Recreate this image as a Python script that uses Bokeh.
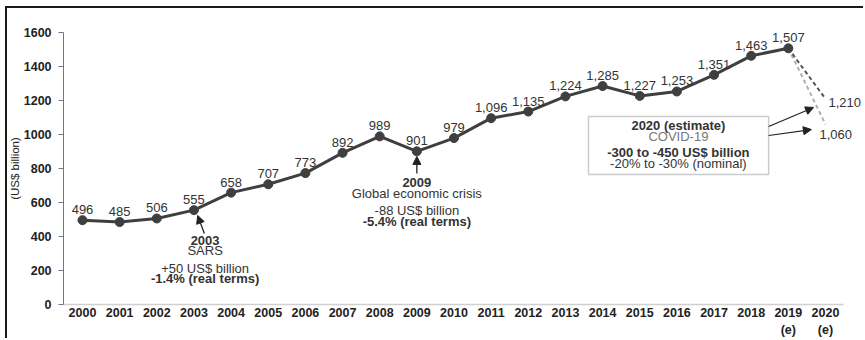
from bokeh.plotting import figure
from bokeh.models import (ColumnDataSource, FixedTicker, Arrow, NormalHead, Label,
                          BoxAnnotation, Range1d)
from bokeh.core.properties import value
from bokeh.embed import file_html
from bokeh.resources import INLINE

years = list(range(2000, 2020))
values = [496, 485, 506, 555, 658, 707, 773, 892, 989, 901, 979, 1096, 1135,
          1224, 1285, 1227, 1253, 1351, 1463, 1507]
labels = ["496", "485", "506", "555", "658", "707", "773", "892", "989", "901",
          "979", "1,096", "1,135", "1,224", "1,285", "1,227", "1,253", "1,351",
          "1,463", "1,507"]
est_year = 2020
est_high = 1210
est_low = 1060
x_ticks = list(range(2000, 2021))
y_ticks = [0, 200, 400, 600, 800, 1000, 1200, 1400, 1600]
tick_overrides = {2019: "2019\n(e)", 2020: "2020\n(e)"}

FONT = "Liberation Sans"
DARK = "#3f3f3f"
TXT = "#333333"

X0, X1 = 1997.981, 2021.077
Y0, Y1 = -211.8, 1741.2
AX_X0, AX_X1 = 1999.49, 2020.48

p = figure(width=858, height=332, output_backend="svg", toolbar_location=None,
           x_range=Range1d(X0, X1), y_range=Range1d(Y0, Y1),
           min_border_left=0, min_border_right=0, min_border_top=0,
           min_border_bottom=0)
p.styles = {"margin-top": "6px", "margin-left": "5px",
            "border-top": "2px solid #1a1a1a", "border-left": "2px solid #1a1a1a"}
p.outline_line_color = None
p.xgrid.grid_line_color = None
p.ygrid.grid_line_color = None
p.background_fill_color = "white"
p.border_fill_color = "white"

# axes
p.xaxis.fixed_location = 0
p.xaxis.bounds = (AX_X0, AX_X1)
p.xaxis.ticker = FixedTicker(ticks=x_ticks)
p.xaxis.major_label_overrides = {k: v for k, v in tick_overrides.items()}
p.xaxis.major_tick_line_color = None
p.xaxis.minor_tick_line_color = None
p.xaxis.axis_line_color = "#d0d0d0"
p.xaxis.axis_line_width = 1.5
p.xaxis.major_label_text_font = FONT
p.xaxis.major_label_text_font_style = "bold"
p.xaxis.major_label_text_font_size = "12.5px"
p.xaxis.major_label_text_color = "#222222"
p.xaxis.major_label_standoff = -4

p.yaxis.fixed_location = AX_X0
p.yaxis.bounds = (0, 1600)
p.yaxis.ticker = FixedTicker(ticks=y_ticks)
p.yaxis.minor_tick_line_color = None
p.yaxis.axis_line_color = "#777777"
p.yaxis.major_tick_line_color = "#777777"
p.yaxis.major_tick_in = 0
p.yaxis.major_tick_out = 5
p.yaxis.major_label_text_font = FONT
p.yaxis.major_label_text_font_style = "bold"
p.yaxis.major_label_text_font_size = "12.5px"
p.yaxis.major_label_text_color = "#222222"
p.yaxis.major_label_standoff = 7
p.yaxis.axis_label = "(US$ billion)"
p.yaxis.axis_label_text_font = FONT
p.yaxis.axis_label_text_font_style = "normal"
p.yaxis.axis_label_text_font_size = "11.5px"
p.yaxis.axis_label_text_color = "#222222"
p.yaxis.axis_label_standoff = 0

src = ColumnDataSource(dict(x=years, y=values, t=labels))

# dashed estimate lines
p.line([years[-1], est_year], [values[-1], est_low], line_color="#b0b0b0",
       line_width=2, line_dash="4 3")
p.line([years[-1], est_year], [values[-1], est_high], line_color="#555555",
       line_width=2, line_dash="4 3")

p.line("x", "y", source=src, line_color=DARK, line_width=3)
p.scatter("x", "y", source=src, size=9, fill_color=DARK, line_color=DARK)

p.text("x", "y", text="t", source=src, text_align="center", text_baseline="bottom",
       y_offset=-6, text_font=value(FONT), text_font_size="13px", text_color=TXT)

p.add_layout(Label(x=est_year, y=est_high, text="1,210", text_align="left",
                   text_baseline="middle", x_offset=3, y_offset=-4, text_font=FONT,
                   text_font_size="13px", text_color=TXT))
p.add_layout(Label(x=est_year, y=est_low, text="1,060", text_align="left",
                   text_baseline="middle", x_offset=-6, y_offset=-10, text_font=FONT,
                   text_font_size="13px", text_color=TXT))


def note(x, y, text, bold=False, color=TXT, size="13px"):
    p.add_layout(Label(x=x, y=y, text=text, text_align="center", text_baseline="middle",
                       text_font=FONT, text_font_size=size,
                       text_font_style="bold" if bold else "normal",
                       text_color=color))


def arrow(x0, y0, x1, y1, w=1.3):
    p.add_layout(Arrow(end=NormalHead(size=8, fill_color="#222222", line_color="#222222"),
                       x_start=x0, y_start=y0, x_end=x1, y_end=y1,
                       line_color="#222222", line_width=w))


# 2003 SARS
arrow(2003.28, 418, 2003.10, 524)
note(2003.3, 376, "2003", bold=True)
note(2003.3, 318, "SARS")
note(2003.3, 212, "+50 US$ billion")
note(2003.3, 153, "-1.4% (real terms)", bold=True)

# 2009 crisis
arrow(2009, 771, 2009, 871)
note(2009, 718, "2009", bold=True)
note(2009, 653, "Global economic crisis")
note(2009, 553, "-88 US$ billion")
note(2009, 488, "-5.4% (real terms)", bold=True)

# 2020 box
p.add_layout(BoxAnnotation(left=2013.62, right=2018.47, bottom=765, top=1106,
                           fill_color="white", fill_alpha=1, line_color="#555555",
                           line_width=1.5))
note(2016.04, 1053, "2020 (estimate)", bold=True)
note(2016.04, 988, "COVID-19", color="#777777")
note(2016.04, 894, "-300 to -450 US$ billion", bold=True)
note(2016.04, 829, "-20% to -30% (nominal)")
arrow(2018.47, 1047, 2019.68, 1159, 1.2)
arrow(2018.47, 994, 2019.62, 1029, 1.2)

open("out.html", "w").write(file_html(p, INLINE))
